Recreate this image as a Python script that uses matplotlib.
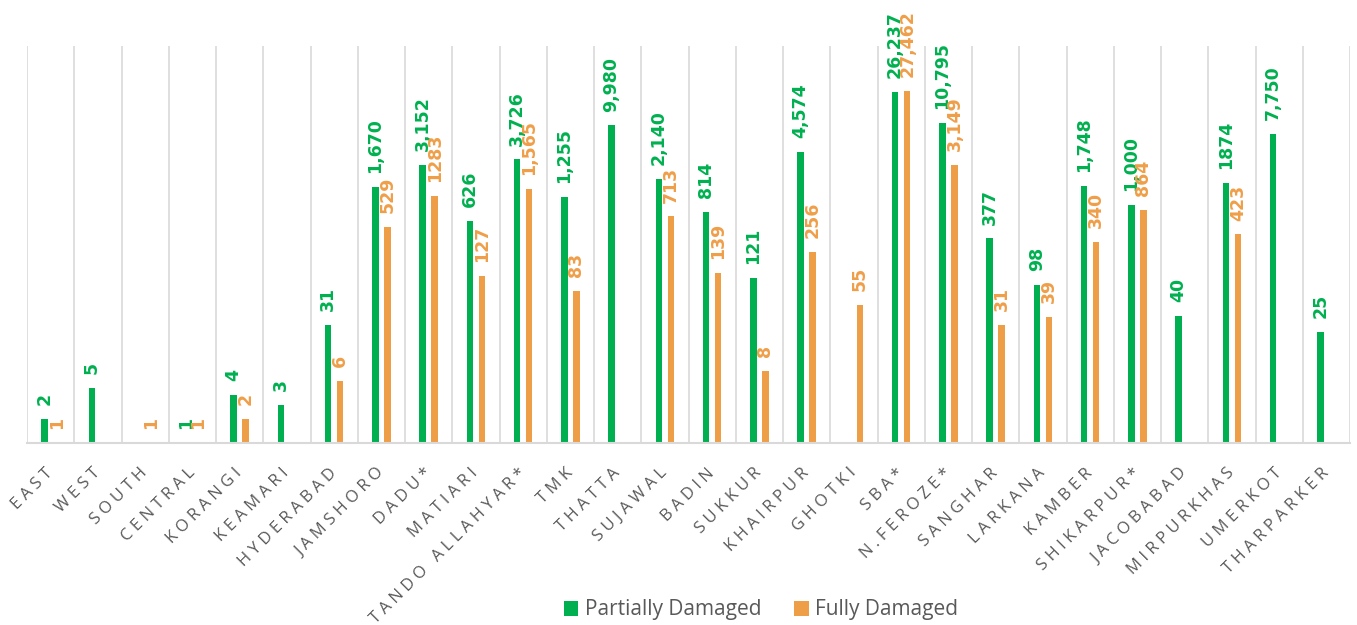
import numpy as np
import matplotlib.pyplot as plt

# district names along the x axis
districts = ['EAST', 'WEST', 'SOUTH', 'CENTRAL', 'KORANGI', 'KEAMARI', 'HYDERABAD',
             'JAMSHORO', 'DADU*', 'MATIARI', 'TANDO ALLAHYAR*', 'TMK', 'THATTA',
             'SUJAWAL', 'BADIN', 'SUKKUR', 'KHAIRPUR', 'GHOTKI', 'SBA*', 'N.FEROZE*',
             'SANGHAR', 'LARKANA', 'KAMBER', 'SHIKARPUR*', 'JACOBABAD', 'MIRPURKHAS',
             'UMERKOT', 'THARPARKER']

# partially damaged (nan = no value)
partial = [2, 5, np.nan, 1, 4, 3, 31, 1670, 3152, 626, 3726, 1255, 9980, 2140, 814,
           121, 4574, np.nan, 26237, 10795, 377, 98, 1748, 1000, 40, 1874, 7750, 25]
partial_lbl = ['2', '5', '', '1', '4', '3', '31', '1,670', '3,152', '626', '3,726',
               '1,255', '9,980', '2,140', '814', '121', '4,574', '', '26,237', '10,795',
               '377', '98', '1,748', '1,000', '40', '1874', '7,750', '25']

# fully damaged
full = [1, np.nan, 1, 1, 2, np.nan, 6, 529, 1283, 127, 1565, 83, np.nan, 713, 139,
        8, 256, 55, 27462, 3149, 31, 39, 340, 864, np.nan, 423, np.nan, np.nan]
full_lbl = ['1', '', '1', '1', '2', '', '6', '529', '1283', '127', '1,565', '83', '',
            '713', '139', '8', '256', '55', '27,462', '3,149', '31', '39', '340', '864',
            '', '423', '', '']

green = '#00B050'
orange = '#EF9E48'
grey_txt = '#595959'
grid_c = '#D9D9D9'

plt.rcParams['font.family'] = ['Open Sans', 'DejaVu Sans']

fig = plt.figure(figsize=(13.57, 6.25), dpi=100)
ax = fig.add_axes([27 / 1357, 1 - 443 / 625, 1323 / 1357, 397 / 625])

x = np.arange(len(districts))
w = 0.137
off = 0.127
b1 = ax.bar(x - off, partial, width=w, color=green, label='Partially Damaged')
b2 = ax.bar(x + off, full, width=w, color=orange, label='Fully Damaged')

ax.set_yscale('log')
ax.set_ylim(1, 1e5)
ax.set_xlim(-0.5, len(districts) - 0.5)

# data labels above each bar
for xs, vals, lbls, col in [(x - off, partial, partial_lbl, green),
                            (x + off, full, full_lbl, orange)]:
    for xi, v, t in zip(xs, vals, lbls):
        if t == '':
            continue
        ax.annotate(t, xy=(xi, v), xytext=(0, 10), textcoords='offset points',
                    rotation=90, ha='center', va='bottom', color=col,
                    fontsize=12.5, fontweight='bold', family='DejaVu Sans',
                    annotation_clip=False)

# vertical separators between categories
for i in range(len(districts) + 1):
    ax.axvline(i - 0.5, color=grid_c, lw=1.2, zorder=0)

ax.yaxis.set_visible(False)
for s in ['left', 'right', 'top']:
    ax.spines[s].set_visible(False)
ax.spines['bottom'].set_color(grid_c)
ax.spines['bottom'].set_linewidth(1.5)

spaced = [' '.join(d) for d in districts]
ax.set_xticks(x)
ax.set_xticklabels(spaced, rotation=45, ha='right', va='center',
                   rotation_mode='anchor', color=grey_txt, fontsize=12)
ax.tick_params(axis='x', length=0, pad=20)

fig.legend(handles=[b1, b2], loc='center', bbox_to_anchor=(761 / 1357, 1 - 610 / 625),
           ncol=2, frameon=False, fontsize=15, labelcolor=grey_txt,
           handlelength=0.7, handleheight=0.7, handletextpad=0.3, columnspacing=1.6)

fig.savefig('out.png', dpi=100)
